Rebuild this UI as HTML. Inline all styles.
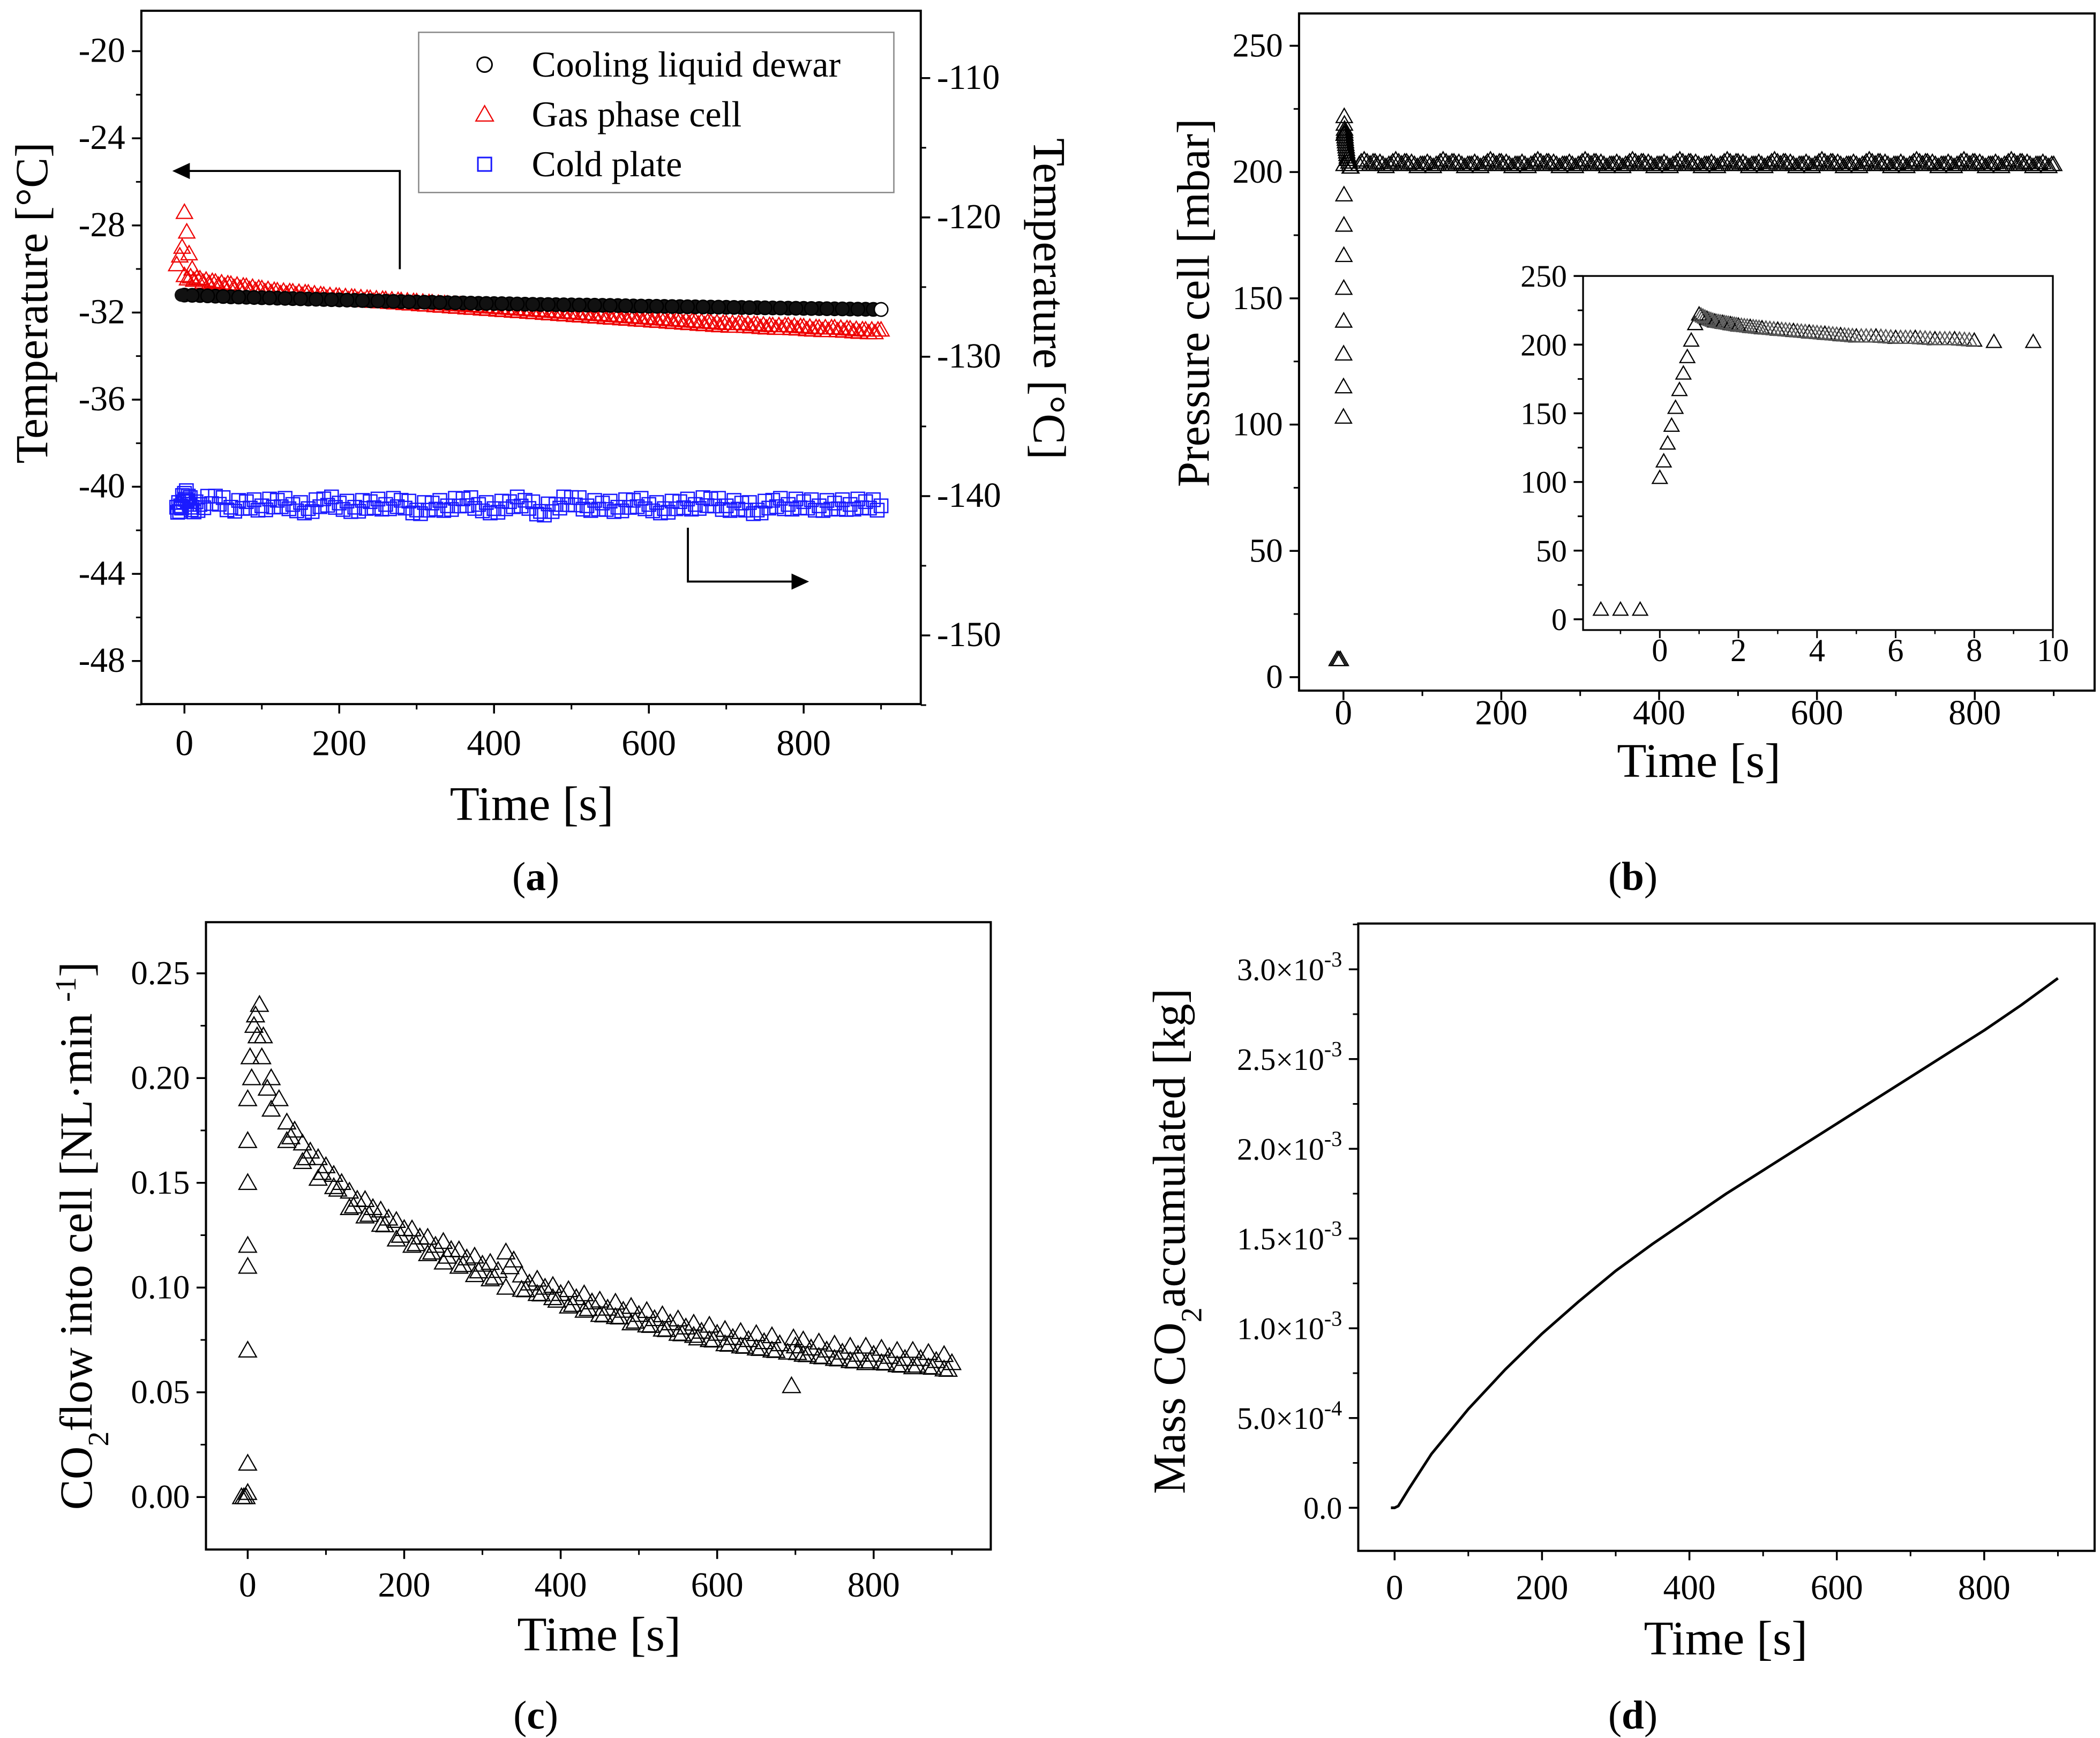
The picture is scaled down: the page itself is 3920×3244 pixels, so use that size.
<!DOCTYPE html>
<html><head><meta charset="utf-8"><style>
html,body{margin:0;padding:0;background:#fff}
svg{display:block;font-family:"Liberation Serif",serif}
text{font-family:"Liberation Serif",serif}
</style></head><body>
<svg id="fig" xmlns="http://www.w3.org/2000/svg" width="3920" height="3244" viewBox="0 0 1560 1291">
<rect x="0" y="0" width="1560" height="1291" fill="#fff"/>
<g id="root" font-family="Liberation Serif, serif"></g>
</svg>
<script>
// ---------- Panel (a) data ----------
const aTime = [0,20,40,60,80,100,120,140,160,180,200,220,240,260,280,300,320,340,360,380,400,420,440,460,480,500,520,540,560,580,600,620,640,660,680,700,720,740,760,780,800,820,840,860,880,900];
const coolingVals = [-31.2,-31.22,-31.25,-31.28,-31.3,-31.32,-31.34,-31.36,-31.38,-31.4,-31.42,-31.44,-31.46,-31.48,-31.5,-31.52,-31.53,-31.55,-31.56,-31.58,-31.59,-31.6,-31.62,-31.63,-31.64,-31.65,-31.66,-31.67,-31.68,-31.7,-31.71,-31.72,-31.73,-31.74,-31.75,-31.76,-31.77,-31.78,-31.79,-31.8,-31.81,-31.82,-31.83,-31.84,-31.85,-31.86];
const gasTimeEarly = [-10,-6,-3,0,3,6,10];
const gasValsEarly = [-29.8,-29.4,-29.0,-27.4,-28.3,-29.3,-30.0];
const gasVals = [-30.3,-30.45,-30.6,-30.7,-30.8,-30.9,-31.0,-31.05,-31.1,-31.2,-31.25,-31.3,-31.35,-31.4,-31.45,-31.5,-31.55,-31.6,-31.65,-31.7,-31.75,-31.8,-31.85,-31.9,-31.95,-32.0,-32.05,-32.1,-32.15,-32.2,-32.25,-32.3,-32.35,-32.4,-32.45,-32.5,-32.5,-32.55,-32.6,-32.6,-32.65,-32.7,-32.7,-32.75,-32.8,-32.8];
const coldTime = [-10,-5,0,5,10,20,40,60,80,100,120,140,160,180,200,220,240,260,280,300,320,340,360,380,400,420,440,460,480,500,520,540,560,580,600,620,640,660,680,700,720,740,760,780,800,820,840,860,880,900];
const coldVals = [-140.8,-140.7,-139.8,-140.0,-140.8,-140.6,-140.0,-140.8,-140.4,-140.7,-140.3,-140.6,-140.9,-140.2,-140.5,-140.8,-140.4,-140.6,-140.3,-141.0,-140.5,-140.7,-140.2,-140.6,-140.9,-140.4,-140.3,-141.1,-140.6,-140.1,-140.7,-140.5,-140.8,-140.3,-140.6,-140.9,-140.4,-140.6,-140.2,-140.7,-140.5,-141.0,-140.3,-140.6,-140.4,-140.7,-140.5,-140.6,-140.4,-140.7];
const aYTicks = [-20,-24,-28,-32,-36,-40,-44,-48];
const aRTicks = [-110,-120,-130,-140,-150];
const xTicks = [0,200,400,600,800];
// ---------- Panel (b) data ----------
const pTime = [-8,-6,-4,0,0.1,0.2,0.3,0.4,0.5,0.6,0.7,0.8,0.9,1.0,1.2,1.4,1.6,1.8,2.0,2.3,2.6,3.0,3.4,3.8,4.2,4.6,5.0,5.5,6.0,6.5,7.0,7.5,8.0,8.5,9.5,20,40,60,80,100,120,140,160,180,200,220,240,260,280,300,320,340,360,380,400,420,440,460,480,500,520,540,560,580,600,620,640,660,680,700,720,740,760,780,800,820,840,860,880,900];
const pVals = [7,7,7,103,115,128,141,154,167,179,191,203,215,222,219,217,216,215,214,213,212,211,210,209,208,207,206,206,205,205,204,204,203,202,202,203,204,203,204,203,203,204,203,203,204,203,203,204,203,203,204,203,203,204,203,203,204,203,203,204,203,203,204,203,203,204,203,203,204,203,203,204,203,203,204,203,203,204,203,203];
const bYTicks = [0,50,100,150,200,250];
const insetXTicks = [0,2,4,6,8,10];
// ---------- Panel (c) data ----------
const fTime = [-8,-5,-2,0,0,0,0,0,0,0,0,3,5,8,10,12,15,18,20,25,30,40,60,80,100,120,140,160,180,200,220,240,260,280,300,320,340,360,380,400,420,440,460,480,500,520,540,560,580,600,620,640,660,680,695,700,720,740,760,780,800,820,840,860,880,900];
const fVals = [0,0,0,0.002,0.016,0.07,0.11,0.12,0.15,0.17,0.19,0.21,0.2,0.225,0.23,0.22,0.235,0.21,0.22,0.195,0.2,0.19,0.175,0.165,0.158,0.15,0.142,0.138,0.133,0.128,0.124,0.12,0.118,0.114,0.111,0.108,0.113,0.102,0.1,0.097,0.095,0.093,0.09,0.089,0.087,0.085,0.083,0.081,0.079,0.078,0.076,0.075,0.074,0.073,0.053,0.072,0.071,0.07,0.069,0.068,0.068,0.067,0.066,0.066,0.065,0.064];
const fTime2 = [30,50,70,90,110,130,150,170,190,210,230,250,270,290,310,330,350,370,390,410,430,450,470,490,510,530,550,570,590,610,630,650,670,690,710,730,750,770,790,810,830,850,870,890];
const fVals2 = [0.185,0.17,0.16,0.152,0.148,0.138,0.134,0.13,0.123,0.12,0.116,0.112,0.11,0.106,0.104,0.1,0.099,0.097,0.095,0.091,0.089,0.087,0.086,0.083,0.082,0.08,0.078,0.077,0.075,0.073,0.072,0.071,0.07,0.069,0.068,0.067,0.066,0.065,0.064,0.064,0.063,0.062,0.062,0.061];
const cYTicks = [0,0.05,0.10,0.15,0.20,0.25];
const cYLabels = ["0.00","0.05","0.10","0.15","0.20","0.25"];
// ---------- Panel (d) data ----------
const mTime = [-5,0,5,20,50,100,150,200,250,300,350,400,450,500,550,600,650,700,750,800,850,900];
const mVals = [0,0,0.01e-3,0.11e-3,0.3e-3,0.55e-3,0.77e-3,0.97e-3,1.15e-3,1.32e-3,1.47e-3,1.61e-3,1.75e-3,1.88e-3,2.01e-3,2.14e-3,2.27e-3,2.4e-3,2.53e-3,2.66e-3,2.8e-3,2.95e-3];
const dYTicks = [0,0.5e-3,1.0e-3,1.5e-3,2.0e-3,2.5e-3,3.0e-3];
const dYMant = ["0.0","5.0","1.0","1.5","2.0","2.5","3.0"];
const dYExp = ["","-4","-3","-3","-3","-3","-3"];

const NS="http://www.w3.org/2000/svg";
const root=document.getElementById('root');
function el(tag,attrs,parent){const e=document.createElementNS(NS,tag);for(const k in attrs)e.setAttribute(k,attrs[k]);(parent||root).appendChild(e);return e;}
function lin(d0,d1,r0,r1){return v=>r0+(v-d0)*(r1-r0)/(d1-d0);}
function txt(s,x,y,size,anchor,parent){const t=el('text',{x:x,y:y,'font-size':size,'text-anchor':anchor||'middle',fill:'#000'},parent);t.textContent=s;return t;}
function tri(x,y,s,col,parent){return el('polygon',{points:`${x},${y-s} ${x-s},${y+s*0.75} ${x+s},${y+s*0.75}`,fill:'none',stroke:col,'stroke-width':0.9},parent);}
function box(x0,y0,x1,y1,name){const r=el('rect',{x:x0,y:y0,width:x1-x0,height:y1-y0,fill:'none',stroke:'#000','stroke-width':1.6});}
function xAxis(sx,ticks,yb,lblY,size,name,minorStep){const g=el('g',{});
 ticks.forEach(v=>{el('line',{x1:sx(v),x2:sx(v),y1:yb,y2:yb+7,stroke:'#000','stroke-width':1.4},g);txt(String(v),sx(v),lblY,size,'middle',g);
  if(minorStep){const m=v+minorStep;el('line',{x1:sx(m),x2:sx(m),y1:yb,y2:yb+4,stroke:'#000','stroke-width':1.2},g);}});}
function yAxis(sy,ticks,labels,xb,size,name,minorStep,dir,lim){dir=dir||-1;const g=el('g',{});
 ticks.forEach((v,i)=>{el('line',{x1:xb,x2:xb+dir*7,y1:sy(v),y2:sy(v),stroke:'#000','stroke-width':1.4},g);
  if(labels)txt(labels[i],xb+dir*12,sy(v)+8,size,dir<0?'end':'start',g);
  if(minorStep!==undefined){const m=v+minorStep;if(!(lim&&(m>lim[1]||m<lim[0])))el('line',{x1:xb,x2:xb+dir*4,y1:sy(m),y2:sy(m),stroke:'#000','stroke-width':1.2},g);}});return g;}
function vtitle(x,y,rot,size,parts,name){const t=el('text',{x:0,y:0,transform:`translate(${x},${y}) rotate(${rot})`,'font-size':size,'text-anchor':'middle'});
 parts.forEach(p=>{const s=el('tspan',{},t);if(p[1]==='sub'){s.setAttribute('baseline-shift','sub');s.setAttribute('font-size',size*0.65);}if(p[1]==='sup'){s.setAttribute('baseline-shift','super');s.setAttribute('font-size',size*0.65);}s.textContent=p[0];});return t;}
function label(s,x,y,name){const t=el('text',{x:x,y:y,'font-size':30,'text-anchor':'middle'});
 let a=el('tspan',{},t);a.textContent='(';let b=el('tspan',{'font-weight':'bold'},t);b.textContent=s;let c=el('tspan',{},t);c.textContent=')';}

// ===== Panel A =====
const xa=lin(0,800,137,597), ya=lin(-20,-48,38,491), yaR=lin(-110,-150,58,472);
box(105,8,684,523,'panel-a-plot-area');
xAxis(xa,xTicks,523,561,27,'panel-a-x-axis',100);
yAxis(ya,aYTicks,aYTicks.map(String),105,26,'panel-a-left-y-axis',-2);
yAxis(yaR,aRTicks,aRTicks.map(String),684,26,'panel-a-right-y-axis',-5,1);
vtitle(35,225,-90,34,[['Temperature [°C]']],'panel-a-left-y-title');
vtitle(768,222,90,34,[['Temperature [°C]']],'panel-a-right-y-title');
{const t=txt('Time [s]',395,609,36);}
{const g=el('g',{});
 const sq=(x,y)=>el('rect',{x:x-5,y:y-5,width:10,height:10,fill:'none',stroke:'#1a1aff','stroke-width':1},g);
 coldTime.forEach((t,i)=>{sq(xa(t),yaR(coldVals[i]));
  if(i>0){const x0=xa(coldTime[i-1]),x1=xa(t),y0=yaR(coldVals[i-1]),y1=yaR(coldVals[i]);
   for(let k=1;k<4;k++){const f=k/4;sq(x0+(x1-x0)*f,y0+(y1-y0)*f+((k%2)?4:-3));}}});}
{const g=el('g',{});
 gasTimeEarly.forEach((t,i)=>tri(xa(t),ya(gasValsEarly[i]),6,'#e00',g));
 aTime.forEach((t,i)=>{tri(xa(t),ya(gasVals[i]),6,'#e00',g);if(i>0){const x0=xa(aTime[i-1]),x1=xa(t),y0=ya(gasVals[i-1]),y1=ya(gasVals[i]);for(let k=1;k<5;k++){const f=k/5;tri(x0+(x1-x0)*f,y0+(y1-y0)*f+((k%2)?2:0),6,'#e00',g);}}});}
{const g=el('g',{});
 aTime.forEach((t,i)=>{el('circle',{cx:xa(t),cy:ya(coolingVals[i]),r:5,fill:'#111',stroke:'#000'},g);if(i>0)el('circle',{cx:(xa(t)+xa(aTime[i-1]))/2,cy:(ya(coolingVals[i])+ya(coolingVals[i-1]))/2,r:5,fill:'#111',stroke:'#000'},g);});
 el('circle',{cx:xa(-4),cy:ya(-31.2),r:5,fill:'#111'},g);
 el('circle',{cx:xa(900),cy:ya(-31.86),r:5,fill:'#fff',stroke:'#000'},g);}
{const g=el('g',{});
 el('polyline',{points:'297,200 297,127 135,127',fill:'none',stroke:'#000','stroke-width':1.5},g);
 el('polygon',{points:'128,127 141,121 141,133',fill:'#000'},g);}
{const g=el('g',{});
 el('polyline',{points:'511,392 511,432 594,432',fill:'none',stroke:'#000','stroke-width':1.5},g);
 el('polygon',{points:'601,432 588,426 588,438',fill:'#000'},g);}
{const g=el('g',{});
 el('rect',{x:311,y:24,width:353,height:119,fill:'#fff',stroke:'#888','stroke-width':1},g);
 el('circle',{cx:360,cy:48,r:5.5,fill:'none',stroke:'#000','stroke-width':1.2},g);txt('Cooling liquid dewar',395,57,27,'start',g);
 tri(360,85,6.5,'#e00',g);txt('Gas phase cell',395,94,27,'start',g);
 el('rect',{x:355,y:117,width:10,height:10,fill:'none',stroke:'#1a1aff','stroke-width':1.2},g);txt('Cold plate',395,131,27,'start',g);}
label('a',398,661,'panel-a-label');

// ===== Panel B =====
const xb=lin(0,800,998,1467), yb=lin(0,250,503,34);
box(965,10,1556,513,'panel-b-plot-area');
xAxis(xb,xTicks,513,538,26,'panel-b-x-axis',100);
yAxis(yb,bYTicks,bYTicks.map(String),965,25,'panel-b-y-axis',25,-1,[0,250]);
vtitle(898,225,-90,34,[['Pressure cell [mbar]']],'panel-b-y-title');
{const t=txt('Time [s]',1262,577,36);}
{const g=el('g',{});
 pTime.forEach((t,i)=>{tri(xb(t),yb(pVals[i]),6,'#000',g);if(i>35){const m=(xb(t)+xb(pTime[i-1]))/2;for(let k=-2;k<=2;k++){tri(m+k*2.2,yb(pVals[i])+(k%2)*1.5,6,'#000',g);}}});}
const xi=lin(0,10,1233,1525), yi=lin(0,250,460,205);
{const r=el('rect',{x:1176,y:205,width:349,height:263,fill:'#fff',stroke:'#000','stroke-width':1.3});}
{const g=el('g',{});
 insetXTicks.forEach(v=>{el('line',{x1:xi(v),x2:xi(v),y1:468,y2:474,stroke:'#000','stroke-width':1.2},g);txt(String(v),xi(v),491,24,'middle',g);el('line',{x1:xi(v-1),x2:xi(v-1),y1:468,y2:471,stroke:'#000','stroke-width':1},g);});}
yAxis(yi,bYTicks,bYTicks.map(String),1176,23,'inset-y-axis',25,-1,[0,250]);
{const g=el('g',{});
 const early=[-1.5,-1,-0.5];early.forEach(t=>tri(xi(t),yi(7),5.5,'#000',g));
 pTime.forEach((t,i)=>{if(t>=0&&t<=10){tri(xi(t),yi(pVals[i]),5.5,'#000',g);if(t>=1&&t<=8&&i>0&&pTime[i-1]>=1){for(let k=1;k<4;k++){const f=k/4;tri(xi(pTime[i-1]+(t-pTime[i-1])*f),yi(pVals[i-1]+(pVals[i]-pVals[i-1])*f),5.5,'#555',g);}}}});}
label('b',1213,661,'panel-b-label');

// ===== Panel C =====
const xc=lin(0,800,184,649), yc=lin(0,0.25,1112,723);
box(153,685,736,1151,'panel-c-plot-area');
xAxis(xc,xTicks,1151,1186,26,'panel-c-x-axis',100);
yAxis(yc,cYTicks,cYLabels,153,25,'panel-c-y-axis',0.025,-1,[0,0.27]);
vtitle(68,918,-90,34,[['CO'],['2','sub'],['flow into cell  [NL·min '],['-1','sup'],[']']],'panel-c-y-title');
{const t=txt('Time [s]',445,1226,36);}
{const g=el('g',{});
 fTime.forEach((t,i)=>{tri(xc(t),yc(fVals[i]),6.5,'#000',g);if(i>21&&fVals[i]>0.06){tri((xc(t)+xc(fTime[i-1]))/2,yc(fVals[i])-6,6.5,'#000',g);tri((xc(t)+xc(fTime[i-1]))/2+3,yc(fVals[i])+5,6.5,'#000',g);}});
 fTime2.forEach((t,i)=>tri(xc(t),yc(fVals2[i]),6.5,'#000',g));}
label('c',398,1284,'panel-c-label');

// ===== Panel D =====
const xd=lin(0,800,1036,1474), yd=lin(0,3e-3,1120,720);
box(1009,686,1556,1152,'panel-d-plot-area');
xAxis(xd,xTicks,1152,1188,26,'panel-d-x-axis',100);
{const g=yAxis(yd,dYTicks,null,1009,22,'panel-d-y-axis',0.25e-3);
 dYTicks.forEach((v,i)=>{const t=el('text',{x:997,y:yd(v)+8,'font-size':23,'text-anchor':'end'},g);
  if(dYExp[i]){const a=el('tspan',{},t);a.textContent=dYMant[i]+'×10';const b=el('tspan',{'font-size':16,dy:-10},t);b.textContent=dYExp[i];}
  else{t.textContent=dYMant[i];}});}
vtitle(880,922,-90,34,[['Mass CO'],['2','sub'],['accumulated [kg]']],'panel-d-y-title');
{const t=txt('Time [s]',1282,1229,36);}
{const p=el('path',{d:mTime.map((t,i)=>(i?'L':'M')+xd(t)+','+yd(mVals[i])).join(' '),fill:'none',stroke:'#000','stroke-width':2,'stroke-linejoin':'round'});}
label('d',1213,1284,'panel-d-label');
</script>
</body></html>
